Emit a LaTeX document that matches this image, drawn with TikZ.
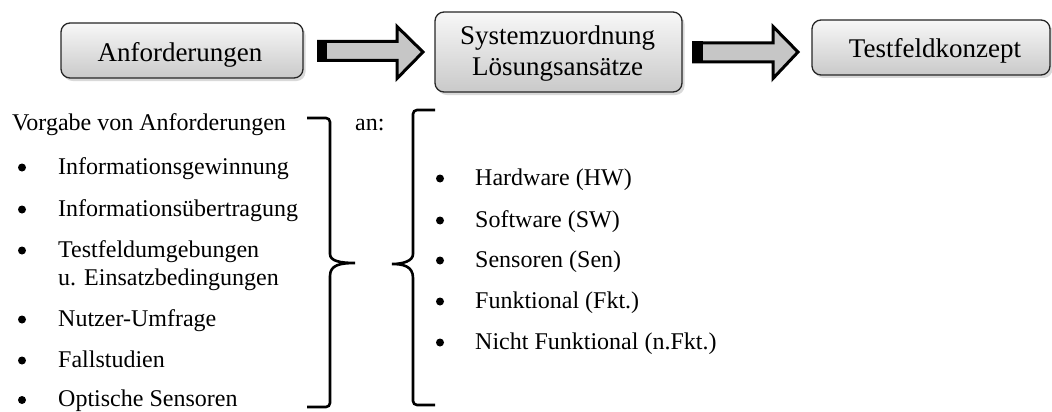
\documentclass[tikz,border=0pt]{standalone}
\usepackage{fontspec}
\setmainfont{Liberation Serif}
\usetikzlibrary{shadows}
\begin{document}
\begin{tikzpicture}[x=1pt,y=-1pt]
\tikzset{
 box/.style={draw=black!85, line width=1.3pt, rounded corners=9pt, top color=gray!6, bottom color=gray!42,
   drop shadow={shadow xshift=2.5pt, shadow yshift=-3pt, opacity=0.3}, minimum height=55pt, inner sep=0pt},
 boxtext/.style={anchor=base, inner sep=0pt, font=\fontsize{27}{31}\selectfont},
 body/.style={anchor=base west, inner sep=0pt, font=\fontsize{24}{28}\selectfont},
 bul/.style={circle, fill=black, minimum size=8pt, inner sep=0pt},
 barrow/.style={draw=black, line width=3pt, fill=gray!45, line join=miter},
 brace/.style={draw=black, line width=2.6pt, line cap=butt},
}
\useasboundingbox (0,0) rectangle (1052,412);
% boxes
\node[box, minimum width=242pt] (b1) at (182,50.5) {};
\node[box, minimum width=247pt, minimum height=80pt] (b2) at (558.5,52) {};
\node[box, minimum width=238pt] (b3) at (931,47.5) {};
\node[boxtext] (t1) at (180,62) {Anforderungen};
\node[boxtext] (t2a) at (557.5,45) {Systemzuordnung};
\node[boxtext] (t2b) at (557.5,76) {Lösungsansätze};
\node[boxtext] (t3) at (935,58) {Testfeldkonzept};
% block arrows
\draw[barrow] (318.5,41.5) -- (397,41.5) -- (397,26.5) -- (423,52) -- (397,78.5) -- (397,60.5) -- (318.5,60.5) -- cycle;
\fill (317,40) rectangle (327,62);
\draw[barrow] (693.5,43) -- (773,43) -- (773,26.5) -- (798,52) -- (773,78.5) -- (773,62) -- (693.5,62) -- cycle;
\fill (692,41.5) rectangle (703,63.5);
% left list
\node[body] (vorg) at (12,130) {Vorgabe von Anforderungen};
\node[body] (an) at (355,130) {an:};
\foreach \y/\t [count=\i] in {174/Informationsgewinnung, 216/Informationsübertragung, 257/Testfeldumgebungen, 326/Nutzer-Umfrage, 367/Fallstudien, 406.5/Optische Sensoren}{
  \node[bul] (lb\i) at (22,\y-6.5) {};
  \node[body] (lt\i) at (58,\y) {\t};
}
\node[body] (lt3b) at (58,285) {u. Einsatzbedingungen};
% right list
\foreach \y/\t [count=\i] in {185/Hardware (HW), 227/Software (SW), 267/Sensoren (Sen), 308/Funktional (Fkt.), 349/Nicht Funktional (n.Fkt.)}{
  \node[bul] (rb\i) at (440,\y-6.5) {};
  \node[body] (rt\i) at (475,\y) {\t};
}
% braces
\draw[brace, rounded corners=4pt] (307,118) -| (330,250)
  [sharp corners] .. controls (330,261) and (340,263) .. (355,263)
  .. controls (340,263) and (330,265) .. (330,276)
  [rounded corners=4pt] |- (307,407);
\draw[brace, rounded corners=4pt] (435,110) -| (413,250)
  [sharp corners] .. controls (413,261) and (403,264) .. (392,264)
  .. controls (403,264) and (413,266) .. (413,278)
  [rounded corners=4pt] |- (435,405);
\end{tikzpicture}
\end{document}
